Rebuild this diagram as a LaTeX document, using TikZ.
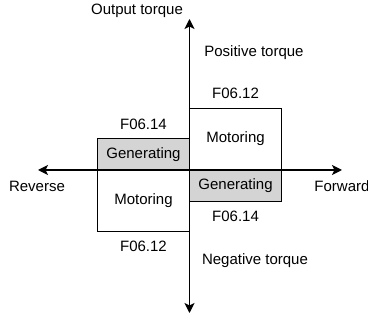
\documentclass[tikz,border=0pt]{standalone}
\usepackage{fontspec}
\setmainfont{Liberation Sans}
\usetikzlibrary{arrows.meta, positioning}
\definecolor{GenFill}{RGB}{212, 212, 212}

\begin{document}
\begin{tikzpicture}[
        x=1pt, y=-1pt,
        font=\fontsize{15}{18}\selectfont,
        quad/.style={draw, line width=0.9pt, inner sep=0pt, minimum width=91.2pt},
        motor/.style={quad, fill=white, minimum height=61.3pt},
        gen/.style={quad, fill=GenFill, minimum height=30.7pt},
        lbl/.style={inner sep=0pt},
        axis/.style={{Stealth[length=10pt, width=10pt, inset=2.5pt]}-{Stealth[length=10pt, width=10pt, inset=2.5pt]}, line width=1.3pt}
    ]
    \useasboundingbox (0,0) rectangle (368,323);

    % quadrant boxes
    \node[motor, anchor=south west] (motorFwd) at (189.5,170) {Motoring};
    \node[gen, anchor=north west] (genFwd) at (189.5,170) {Generating};
    \node[gen, anchor=south east] (genRev) at (189.5,170) {Generating};
    \node[motor, anchor=north east] (motorRev) at (189.5,170) {Motoring};

    % axis ends
    \coordinate (top) at (189.5,19);
    \coordinate (bottom) at (189.5,313);
    \coordinate (left) at (38,170);
    \coordinate (right) at (342,170);

    \draw[axis] (bottom) -- (top);
    \draw[axis] (left) -- (right);

    % texts
    \node[lbl] (outTorque) at (137,11) {Output torque};
    \node[lbl] (posTorque) at (254,53) {Positive torque};
    \node[lbl] (negTorque) at (255,261) {Negative torque};
    \node[lbl] (reverse) at (37,186) {Reverse};
    \node[lbl] (forward) at (342,186) {Forward};
    \node[lbl, above=9pt of motorFwd] (limFwdPos) {F06.12};
    \node[lbl, above=9pt of genRev] (limRevPos) {F06.14};
    \node[lbl, below=9pt of genFwd] (limFwdNeg) {F06.14};
    \node[lbl, below=9pt of motorRev] (limRevNeg) {F06.12};
\end{tikzpicture}
\end{document}
